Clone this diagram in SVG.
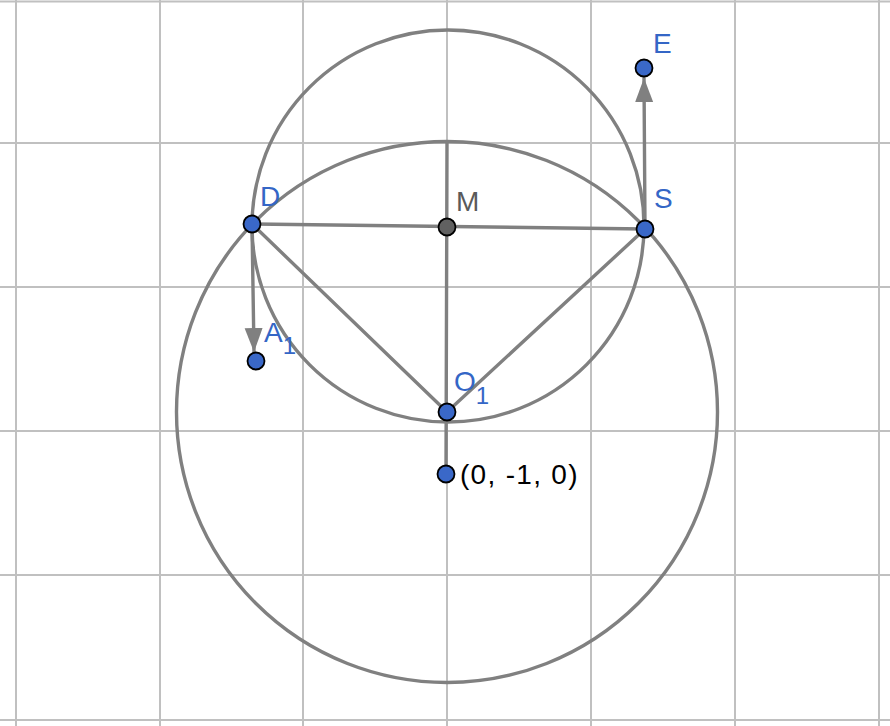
<svg xmlns="http://www.w3.org/2000/svg" width="890" height="726" viewBox="0 0 890 726">
<style>
.grid{stroke:#c0c0c0;stroke-width:2;fill:none}
.ln{stroke:#808080;stroke-width:3.4;fill:none;stroke-linecap:round}
.pt{fill:#3a68c8;stroke:#000;stroke-width:1.8}
.lbl{font-family:"Liberation Sans",Arial,sans-serif;font-size:28px;fill:#3466c6}
.sub{font-size:24px}
</style>
<defs>
<marker id="ah" markerUnits="userSpaceOnUse" markerWidth="26" markerHeight="20" refX="24" refY="9" orient="auto">
<path d="M0,0 L24,9 L0,18 Z" fill="#808080"/>
</marker>
</defs>
<rect width="890" height="726" fill="#fff"/>
<g id="grid">
<path class="grid" d="M16,0V726M160,0V726M303,0V726M447,0V726M591,0V726M735,0V726M879,0V726"/>
<path class="grid" d="M0,1.5H890M0,143H890M0,287H890M0,431H890M0,575H890M0,720H890"/>
</g>
<g id="connectors">
<circle class="ln" cx="448" cy="226" r="196"/>
<circle class="ln" cx="447" cy="412" r="270.5"/>
<line class="ln" x1="252" y1="224" x2="645" y2="229"/>
<line class="ln" x1="447" y1="142" x2="446" y2="474"/>
<line class="ln" x1="252" y1="224" x2="447" y2="412"/>
<line class="ln" x1="645" y1="229" x2="447" y2="412"/>
<line class="ln" x1="252" y1="224" x2="254" y2="352" marker-end="url(#ah)"/>
<line class="ln" x1="645" y1="229" x2="644" y2="78" marker-end="url(#ah)"/>
</g>
<g id="A1"><circle class="pt" cx="256" cy="361" r="8.5"/><text class="lbl" x="264" y="342">A<tspan class="sub" dy="12">1</tspan></text></g>
<g id="E"><circle class="pt" cx="644" cy="68" r="8.5"/><text class="lbl" x="653" y="53">E</text></g>
<g id="D"><circle class="pt" cx="252" cy="224" r="8.5"/><text class="lbl" x="260" y="206">D</text></g>
<g id="S"><circle class="pt" cx="645" cy="229" r="8.5"/><text class="lbl" x="654" y="208">S</text></g>
<g id="M"><circle class="pt" cx="447" cy="227" r="8.5" style="fill:#616161"/><text class="lbl" x="456" y="211" style="fill:#5a5a5a">M</text></g>
<g id="O1"><circle class="pt" cx="447" cy="412" r="8.5"/><text class="lbl" x="454" y="391">O<tspan class="sub" dy="13">1</tspan></text></g>
<g id="P"><circle class="pt" cx="446" cy="474" r="8.5"/><text class="lbl" x="460" y="484" style="fill:#000;letter-spacing:1.3px">(0, -1, 0)</text></g>
</svg>
